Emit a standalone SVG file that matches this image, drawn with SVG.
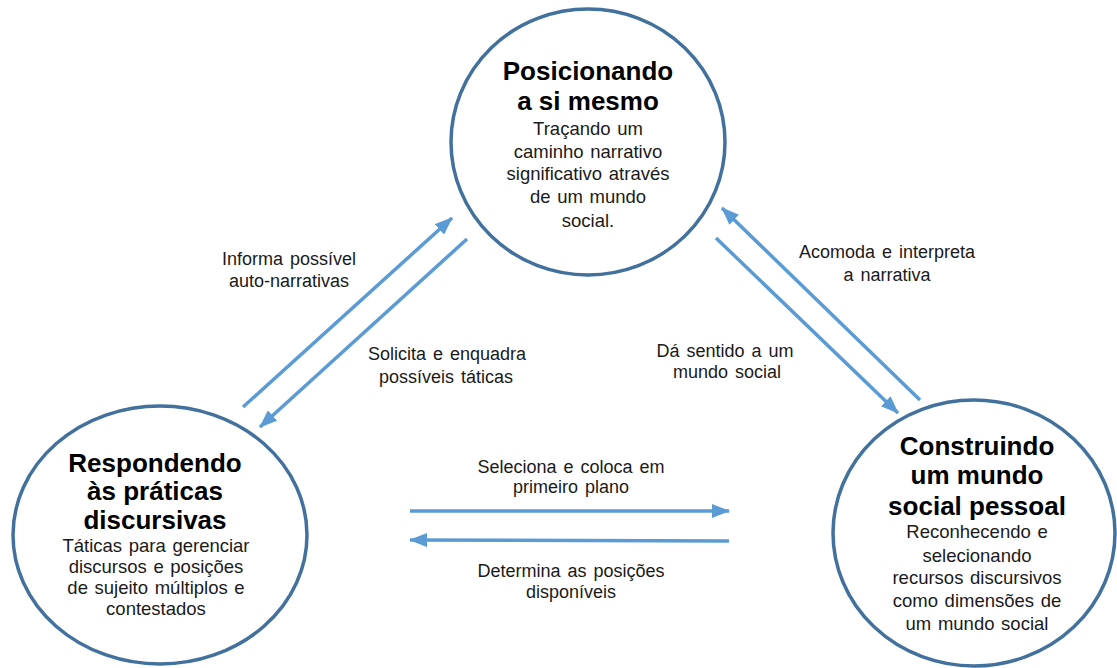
<svg xmlns="http://www.w3.org/2000/svg" width="1117" height="668" viewBox="0 0 1117 668">
<defs>
<style>
.node ellipse{fill:#fff;stroke:#41719c;stroke-width:3.5}
.t{font-family:"Liberation Sans",Arial,sans-serif;font-weight:bold;font-size:26px;fill:#000;text-anchor:middle}
.b{font-family:"Liberation Sans",Arial,sans-serif;font-size:18.5px;word-spacing:1.5px;fill:#1a1a1a;text-anchor:middle}
.lbl{font-family:"Liberation Sans",Arial,sans-serif;font-size:18px;word-spacing:2px;fill:#1a1a1a;text-anchor:middle}
.conn line{stroke:#5b9bd5;stroke-width:3.5;marker-end:url(#ah)}
</style>
<marker id="ah" markerUnits="userSpaceOnUse" markerWidth="18" markerHeight="14" viewBox="0 0 18 14" refX="17" refY="7" orient="auto">
<path d="M0,0 L18,7 L0,14 Z" fill="#5b9bd5"/>
</marker>
</defs>
<rect width="1117" height="668" fill="#fff"/>
<g id="connectors" class="conn">
<line x1="243" y1="407" x2="452" y2="218"/>
<line x1="467" y1="239" x2="260" y2="427"/>
<line x1="920" y1="400" x2="722" y2="208"/>
<line x1="716" y1="238" x2="898" y2="413"/>
<line x1="410" y1="511" x2="729" y2="511"/>
<line x1="729" y1="541" x2="410" y2="540"/>
</g>
<g id="edge-labels">
<text class="lbl" x="289" y="265">Informa possível</text>
<text class="lbl" x="289" y="287">auto-narrativas</text>
<text class="lbl" x="447" y="360">Solicita e enquadra</text>
<text class="lbl" x="446" y="383">possíveis táticas</text>
<text class="lbl" x="887" y="258">Acomoda e interpreta</text>
<text class="lbl" x="887" y="281">a narrativa</text>
<text class="lbl" x="725" y="357">Dá sentido a um</text>
<text class="lbl" x="727" y="378">mundo social</text>
<text class="lbl" x="571" y="473">Seleciona e coloca em</text>
<text class="lbl" x="571" y="493">primeiro plano</text>
<text class="lbl" x="571" y="577">Determina as posições</text>
<text class="lbl" x="571" y="598">disponíveis</text>
</g>
<g id="node-top" class="node">
<ellipse cx="588" cy="142" rx="137" ry="133"/>
<text class="t" x="588" y="80">Posicionando</text>
<text class="t" x="588" y="110">a si mesmo</text>
<text class="b" x="588" y="135">Traçando um</text>
<text class="b" x="588" y="158">caminho narrativo</text>
<text class="b" x="588" y="180">significativo através</text>
<text class="b" x="588" y="203">de um mundo</text>
<text class="b" x="588" y="227">social.</text>
</g>
<g id="node-left" class="node">
<ellipse cx="160" cy="535" rx="147" ry="129"/>
<text class="t" x="155" y="472">Respondendo</text>
<text class="t" x="155" y="500">às práticas</text>
<text class="t" x="155" y="529">discursivas</text>
<text class="b" x="156" y="552">Táticas para gerenciar</text>
<text class="b" x="156" y="573">discursos e posições</text>
<text class="b" x="156" y="594">de sujeito múltiplos e</text>
<text class="b" x="156" y="615">contestados</text>
</g>
<g id="node-right" class="node">
<ellipse cx="974" cy="533" rx="141" ry="133"/>
<text class="t" x="977" y="455">Construindo</text>
<text class="t" x="977" y="484">um mundo</text>
<text class="t" x="977" y="515">social pessoal</text>
<text class="b" x="977" y="538">Reconhecendo e</text>
<text class="b" x="977" y="562">selecionando</text>
<text class="b" x="977" y="584">recursos discursivos</text>
<text class="b" x="977" y="607">como dimensões de</text>
<text class="b" x="977" y="630">um mundo social</text>
</g>
</svg>
